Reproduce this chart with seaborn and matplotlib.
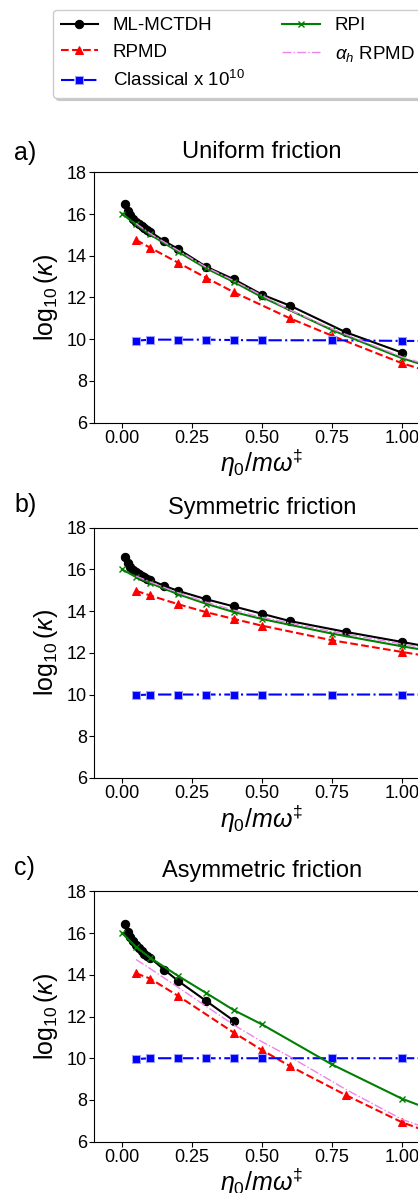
import matplotlib
matplotlib.use("Agg")
import matplotlib.pyplot as plt
import seaborn as sns

# ---- data (log10 of rate constants) ----
panel_titles = ["Uniform friction", "Symmetric friction", "Asymmetric friction"]
panel_tags = ["a)", "b)", "c)"]

# a) uniform friction
mc_x_a = [0.01, 0.02, 0.03, 0.04, 0.05, 0.06, 0.07, 0.08, 0.09, 0.10, 0.15, 0.2, 0.3, 0.4, 0.5, 0.6, 0.8, 1.0]
mc_y_a = [16.50, 16.15, 15.95, 15.78, 15.63, 15.52, 15.42, 15.32, 15.24, 15.16, 14.71, 14.33, 13.48, 12.87, 12.14, 11.61, 10.33, 9.36]
rpmd_x_a = [0.05, 0.1, 0.2, 0.3, 0.4, 0.6, 0.75, 1.0, 1.5]
rpmd_y_a = [14.76, 14.39, 13.67, 12.95, 12.25, 11.00, 10.17, 8.85, 6.8]
cl_x_a = [0.05, 0.1, 0.2, 0.3, 0.4, 0.5, 0.75, 1.0, 1.5]
cl_y_a = [9.93, 9.98, 9.98, 9.98, 9.96, 9.95, 9.95, 9.92, 9.9]
rpi_x_a = [0.0, 0.05, 0.1, 0.2, 0.3, 0.4, 0.5, 0.75, 1.0, 1.5]
rpi_y_a = [16.02, 15.50, 15.02, 14.20, 13.40, 12.74, 12.02, 10.44, 9.09, 7.0]
ah_x_a = [0.05, 0.1, 0.2, 0.3, 0.4, 0.6, 0.75, 1.0, 1.5]
ah_y_a = [15.55, 15.07, 14.26, 13.46, 12.80, 11.40, 10.50, 9.15, 7.1]

# b) symmetric friction
mc_x_b = [0.01, 0.02, 0.03, 0.04, 0.05, 0.06, 0.07, 0.08, 0.09, 0.10, 0.15, 0.2, 0.3, 0.4, 0.5, 0.6, 0.8, 1.0, 1.5]
mc_y_b = [16.61, 16.30, 16.10, 15.96, 15.85, 15.76, 15.69, 15.62, 15.56, 15.50, 15.21, 14.97, 14.57, 14.22, 13.87, 13.52, 13.00, 12.52, 11.3]
rpmd_x_b = [0.05, 0.1, 0.2, 0.3, 0.4, 0.5, 0.75, 1.0, 1.5]
rpmd_y_b = [14.97, 14.75, 14.33, 13.95, 13.62, 13.30, 12.60, 12.04, 10.95]
cl_x_b = [0.05, 0.1, 0.2, 0.3, 0.4, 0.5, 0.75, 1.0, 1.5]
cl_y_b = [9.97, 10.0, 10.0, 10.0, 10.0, 10.0, 10.0, 10.0, 10.0]
rpi_x_b = [0.0, 0.05, 0.1, 0.2, 0.3, 0.4, 0.5, 0.75, 1.0, 1.5]
rpi_y_b = [16.00, 15.63, 15.34, 14.81, 14.35, 13.95, 13.62, 12.92, 12.31, 11.2]
ah_x_b = [0.05, 0.1, 0.2, 0.3, 0.4, 0.5, 0.75, 1.0, 1.5]
ah_y_b = [15.68, 15.40, 14.88, 14.43, 14.04, 13.70, 13.02, 12.42, 11.3]

# c) asymmetric friction
mc_x_c = [0.01, 0.02, 0.03, 0.04, 0.05, 0.06, 0.07, 0.08, 0.09, 0.10, 0.15, 0.2, 0.3, 0.4]
mc_y_c = [16.44, 16.05, 15.80, 15.60, 15.42, 15.27, 15.13, 15.00, 14.90, 14.82, 14.25, 13.71, 12.75, 11.79]
rpmd_x_c = [0.05, 0.1, 0.2, 0.4, 0.5, 0.6, 0.8, 1.0, 1.5]
rpmd_y_c = [14.07, 13.82, 12.99, 11.22, 10.39, 9.62, 8.23, 6.93, 4.5]
cl_x_c = [0.05, 0.1, 0.2, 0.3, 0.4, 0.5, 0.75, 1.0, 1.5]
cl_y_c = [9.96, 10.0, 10.0, 10.0, 10.0, 10.0, 10.0, 10.0, 10.0]
rpi_x_c = [0.0, 0.05, 0.1, 0.2, 0.3, 0.4, 0.5, 0.75, 1.0, 1.5]
rpi_y_c = [16.00, 15.33, 14.82, 13.95, 13.13, 12.30, 11.62, 9.70, 8.06, 5.5]
ah_x_c = [0.05, 0.1, 0.2, 0.4, 0.5, 0.6, 0.8, 1.0, 1.5]
ah_y_c = [14.73, 14.30, 13.40, 11.59, 10.79, 10.07, 8.50, 7.07, 4.7]

panels = [
    (mc_x_a, mc_y_a, rpmd_x_a, rpmd_y_a, cl_x_a, cl_y_a, rpi_x_a, rpi_y_a, ah_x_a, ah_y_a),
    (mc_x_b, mc_y_b, rpmd_x_b, rpmd_y_b, cl_x_b, cl_y_b, rpi_x_b, rpi_y_b, ah_x_b, ah_y_b),
    (mc_x_c, mc_y_c, rpmd_x_c, rpmd_y_c, cl_x_c, cl_y_c, rpi_x_c, rpi_y_c, ah_x_c, ah_y_c),
]

plt.rcParams["font.family"] = ["Liberation Sans", "DejaVu Sans"]
plt.rcParams["mathtext.fontset"] = "custom"
plt.rcParams["mathtext.rm"] = "Liberation Sans"
plt.rcParams["mathtext.it"] = "Liberation Sans:italic"
plt.rcParams["mathtext.bf"] = "Liberation Sans:bold"

fig = plt.figure(figsize=(4.18, 11.93), dpi=100)

# axes run past the right edge of the canvas, like the cropped reference
left, width, height = 94 / 418, 336 / 418, 250.4 / 1193
bottoms = [1 - 422.7 / 1193, 1 - 778.0 / 1193, 1 - 1141.7 / 1193]
tag_y = [153, 505, 868]

line_kw = dict(sort=False, errorbar=None, legend=False)

for i, (mcx, mcy, rx, ry, cx, cy, px, py, hx, hy) in enumerate(panels):
    ax = fig.add_axes([left, bottoms[i], width, height])

    sns.lineplot(x=mcx, y=mcy, ax=ax, color="black", marker="o", markersize=6,
                 markeredgecolor="black", linewidth=1.5, label="ML-MCTDH", **line_kw)
    sns.lineplot(x=rx, y=ry, ax=ax, color="red", marker="^", markersize=6,
                 markeredgecolor="red", linestyle="--", linewidth=1.5, label="RPMD", **line_kw)
    sns.lineplot(x=cx, y=cy, ax=ax, color="blue", marker="s", markersize=5.5,
                 markeredgecolor="#a0a0ff", markeredgewidth=0.75,
                 linestyle="-.", linewidth=1.5, label="Classical x $10^{10}$", **line_kw)
    sns.lineplot(x=px, y=py, ax=ax, color="green", marker="x", markersize=4,
                 markeredgecolor="green", markeredgewidth=1.0,
                 linewidth=1.5, label="RPI", **line_kw)
    sns.lineplot(x=hx, y=hy, ax=ax, color="violet", linestyle="-.", linewidth=1.0,
                 label=r"$\alpha_h$ RPMD", **line_kw)

    ax.set_xlim(-0.1, 1.1)
    ax.set_ylim(6, 18)
    ax.set_xticks([0.0, 0.25, 0.5, 0.75, 1.0])
    ax.set_xticklabels(["0.00", "0.25", "0.50", "0.75", "1.00"])
    ax.set_yticks([6, 8, 10, 12, 14, 16, 18])
    ax.tick_params(axis="both", labelsize=13, pad=1.5)
    ax.set_xlabel(r"$\eta_0/m\omega^{\ddagger}$", fontsize=18, labelpad=0.5)
    ax.set_ylabel(r"$\log_{10}(\kappa)$", fontsize=18, labelpad=5)
    ax.set_title(panel_titles[i], fontsize=17, pad=10)
    fig.text(14 / 418, 1 - tag_y[i] / 1193, panel_tags[i], fontsize=18,
             ha="left", va="center")

    if i == 0:
        handles, labels = ax.get_legend_handles_labels()

fig.legend(handles, labels, loc="upper left", bbox_to_anchor=(53 / 418, 1 - 9.5 / 1193),
           borderaxespad=0, ncol=2, fontsize=13.5, labelspacing=0.5,
           shadow={"color": "0.75", "alpha": 0.8})

fig.savefig("out.png", dpi=100)
